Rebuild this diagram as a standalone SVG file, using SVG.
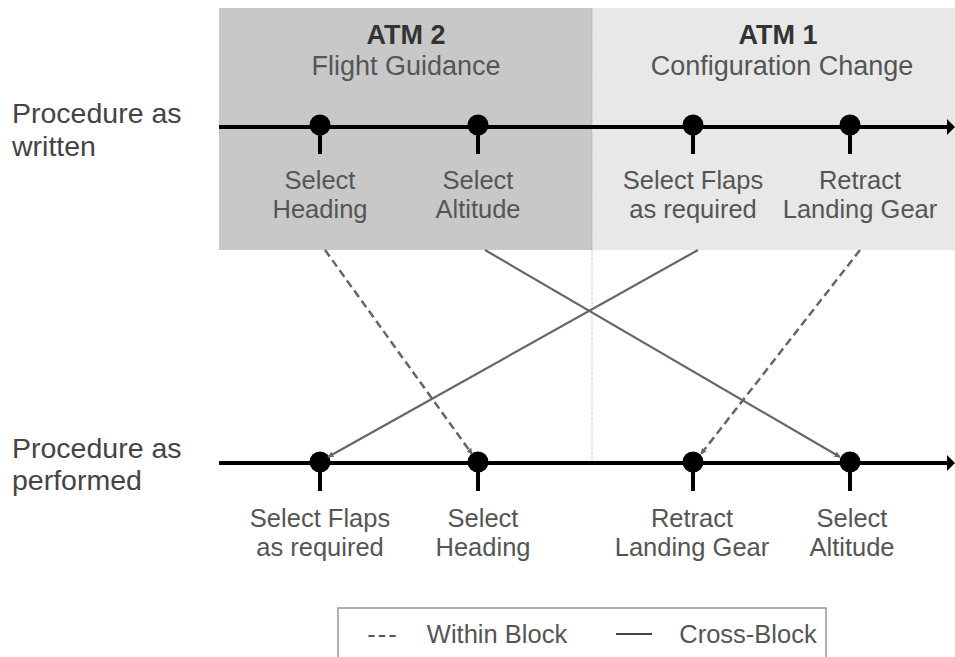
<svg xmlns="http://www.w3.org/2000/svg" width="955" height="657" viewBox="0 0 955 657">
<defs>
<style>
text{font-family:"Liberation Sans",Arial,sans-serif;fill:#555;font-size:25.5px;text-anchor:middle}
.side{text-anchor:start;fill:#444;font-size:28.5px}
.title{font-size:27px}
.bold{font-weight:bold;fill:#333}
.tl{stroke:#000;stroke-width:4;fill:none}
.stem{stroke:#000;stroke-width:4}
.conn{stroke:#666;stroke-width:2.2;fill:none}
.dash{stroke-dasharray:8,4.5;stroke-width:2.5}
</style>
<marker id="ah" viewBox="0 0 10 10" refX="9" refY="5" markerWidth="6" markerHeight="6" orient="auto" markerUnits="userSpaceOnUse">
<path d="M0,0 L10,5 L0,10 z" fill="#666"/>
</marker>
</defs>
<rect width="955" height="657" fill="#fff"/>
<g id="block-atm2">
<rect x="219" y="8" width="373" height="242" fill="#c8c8c8"/>
<text x="406" y="44" class="title bold">ATM 2</text>
<text x="406" y="75" class="title">Flight Guidance</text>
</g>
<g id="block-atm1">
<rect x="592" y="8" width="363" height="242" fill="#e8e8e8"/>
<text x="778" y="44" class="title bold">ATM 1</text>
<text x="782" y="75" class="title">Configuration Change</text>
</g>
<line x1="592" y1="8" x2="592" y2="465" stroke="#999" stroke-width="1" stroke-dasharray="1,1.5"/>
<g id="label-written"><text x="12" y="123" class="side">Procedure as</text><text x="12" y="156" class="side">written</text></g>
<g id="label-performed"><text x="12" y="458" class="side">Procedure as</text><text x="12" y="490" class="side">performed</text></g>
<g id="timeline-written"><line x1="219" y1="127" x2="949" y2="127" class="tl"/><path d="M947,119 L955,127 L947,135 z"/></g>
<g id="timeline-performed"><line x1="219" y1="463" x2="949" y2="463" class="tl"/><path d="M947,455 L955,463 L947,471 z"/></g>
<g id="w-heading"><circle cx="320" cy="125" r="10.5"/><line x1="320" y1="125" x2="320" y2="154" class="stem"/><text x="320" y="189">Select</text><text x="320" y="218">Heading</text></g>
<g id="w-altitude"><circle cx="478" cy="125" r="10.5"/><line x1="478" y1="125" x2="478" y2="154" class="stem"/><text x="478" y="189">Select</text><text x="478" y="218">Altitude</text></g>
<g id="w-flaps"><circle cx="693" cy="125" r="10.5"/><line x1="693" y1="125" x2="693" y2="154" class="stem"/><text x="693" y="189">Select Flaps</text><text x="693" y="218">as required</text></g>
<g id="w-gear"><circle cx="850" cy="125" r="10.5"/><line x1="850" y1="125" x2="850" y2="154" class="stem"/><text x="860" y="189">Retract</text><text x="860" y="218">Landing Gear</text></g>
<g id="p-flaps"><circle cx="320" cy="462" r="10.5"/><line x1="320" y1="462" x2="320" y2="491" class="stem"/><text x="320" y="527">Select Flaps</text><text x="320" y="556">as required</text></g>
<g id="p-heading"><circle cx="478" cy="462" r="10.5"/><line x1="478" y1="462" x2="478" y2="491" class="stem"/><text x="483" y="527">Select</text><text x="483" y="556">Heading</text></g>
<g id="p-gear"><circle cx="693" cy="462" r="10.5"/><line x1="693" y1="462" x2="693" y2="491" class="stem"/><text x="692" y="527">Retract</text><text x="692" y="556">Landing Gear</text></g>
<g id="p-altitude"><circle cx="850" cy="462" r="10.5"/><line x1="850" y1="462" x2="850" y2="491" class="stem"/><text x="852" y="527">Select</text><text x="852" y="556">Altitude</text></g>
<g id="connectors">
<line x1="325" y1="250" x2="472" y2="454" class="conn dash" marker-end="url(#ah)"/>
<line x1="485" y1="250" x2="840" y2="457" class="conn" marker-end="url(#ah)"/>
<line x1="698" y1="250" x2="328" y2="457" class="conn" marker-end="url(#ah)"/>
<line x1="860" y1="250" x2="701" y2="454" class="conn dash" marker-end="url(#ah)"/>
</g>
<g id="legend">
<rect x="338" y="608" width="488" height="60" fill="#fff" stroke="#999" stroke-width="1.5"/>
<text x="383" y="643" letter-spacing="2">---</text>
<text x="497" y="643">Within Block</text>
<line x1="616" y1="634" x2="652" y2="634" stroke="#444" stroke-width="2"/>
<text x="748" y="643">Cross-Block</text>
</g>
</svg>
